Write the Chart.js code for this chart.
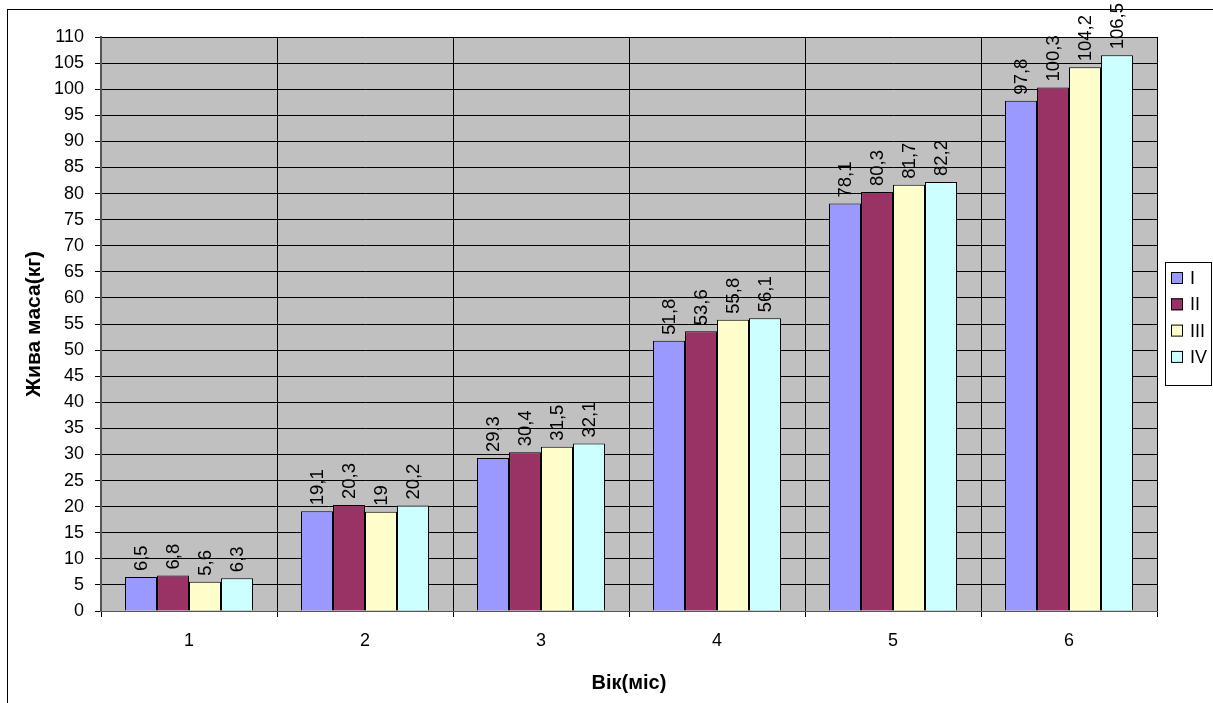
<!DOCTYPE html>
<html>
<head>
<meta charset="utf-8">
<script src="https://cdn.jsdelivr.net/npm/chart.js@4"></script>
<style>
  html, body { margin: 0; padding: 0; background: #fff; }
  #wrap { width: 1213px; height: 703px; position: relative; }
</style>
</head>
<body>
<div id="wrap"><canvas id="c" width="1213" height="703"></canvas></div>
<script>
// Age in months
const categories = ['1', '2', '3', '4', '5', '6'];
// Live weight (kg) per group
const groupI   = [6.5, 19.1, 29.3, 51.8, 78.1, 97.8];
const groupII  = [6.8, 20.3, 30.4, 53.6, 80.3, 100.3];
const groupIII = [5.6, 19, 31.5, 55.8, 81.7, 104.2];
const groupIV  = [6.3, 20.2, 32.1, 56.1, 82.2, 106.5];
const seriesNames = ['I', 'II', 'III', 'IV'];
const seriesColors = ['#9999FF', '#993366', '#FFFFCC', '#CCFFFF'];
const yTickStep = 5;
const yMax = 110;

const FONT = "'Liberation Sans', Arial, sans-serif";

// grey plot background + outer frame
const backdrop = {
  id: 'backdrop',
  beforeDraw(chart) {
    const {ctx, chartArea: a} = chart;
    ctx.save();
    ctx.fillStyle = '#fff';
    ctx.fillRect(0, 0, chart.width, chart.height);
    ctx.fillStyle = '#C0C0C0';
    ctx.fillRect(a.left, a.top, a.right - a.left, a.bottom - a.top);
    ctx.strokeStyle = '#000';
    ctx.lineWidth = 1;
    ctx.strokeRect(7.5, 9.5, chart.width + 20, chart.height + 20);
    ctx.restore();
  }
};

// vertical value labels above each bar
const valueLabels = {
  id: 'valueLabels',
  afterDatasetsDraw(chart) {
    const {ctx} = chart;
    ctx.save();
    ctx.font = '18.5px ' + FONT;
    ctx.fillStyle = '#000';
    ctx.textAlign = 'left';
    ctx.textBaseline = 'middle';
    chart.data.datasets.forEach((ds, i) => {
      chart.getDatasetMeta(i).data.forEach((bar, j) => {
        const txt = String(ds.data[j]).replace('.', ',');
        ctx.save();
        ctx.translate(bar.x + 1, bar.y - 6);
        ctx.rotate(-Math.PI / 2);
        ctx.fillText(txt, 0, 0);
        ctx.restore();
      });
    });
    ctx.restore();
  }
};

// boxed legend on the right
const boxLegend = {
  id: 'boxLegend',
  afterDraw(chart) {
    const {ctx} = chart;
    const x = 1165, y = 262, w = 46, h = 123, step = 26.3;
    ctx.save();
    ctx.fillStyle = '#fff';
    ctx.fillRect(x, y, w, h);
    ctx.strokeStyle = '#000';
    ctx.lineWidth = 1;
    ctx.strokeRect(x + 0.5, y + 0.5, w, h);
    ctx.font = '18px ' + FONT;
    ctx.textAlign = 'left';
    ctx.textBaseline = 'middle';
    chart.data.datasets.forEach((ds, i) => {
      const cy = y + 16 + i * step;
      ctx.fillStyle = ds.backgroundColor;
      ctx.fillRect(x + 6, cy - 6, 12, 12);
      ctx.strokeStyle = '#000';
      ctx.strokeRect(x + 6.5, cy - 5.5, 11, 11);
      ctx.fillStyle = '#000';
      ctx.fillText(ds.label, x + 25, cy + 1);
    });
    ctx.restore();
  }
};

const datasets = [groupI, groupII, groupIII, groupIV].map((vals, i) => ({
  label: seriesNames[i],
  data: vals,
  backgroundColor: seriesColors[i],
  borderColor: '#000',
  borderWidth: 1,
  categoryPercentage: 0.727,
  barPercentage: 1.0
}));

new Chart(document.getElementById('c'), {
  type: 'bar',
  data: { labels: categories, datasets },
  options: {
    responsive: false,
    animation: false,
    devicePixelRatio: 1,
    layout: { padding: { top: 37, right: 56, left: 0, bottom: 0 } },
    plugins: {
      legend: { display: false },
      tooltip: { enabled: false }
    },
    scales: {
      x: {
        offset: true,
        grid: { color: '#000', lineWidth: 1, offset: true, tickLength: 6, tickColor: '#000' },
        border: { color: '#555', width: 1 },
        ticks: { color: '#000', font: { family: FONT, size: 18 }, padding: 13 },
        title: { display: true, text: 'Вік(міс)', color: '#000',
                 font: { family: FONT, size: 20, weight: 'bold' }, padding: { top: 0, bottom: 8 } },
        afterFit(s) { s.height = 92; }
      },
      y: {
        min: 0, max: yMax,
        grid: { color: '#000', lineWidth: 1, tickLength: 6, tickColor: '#000' },
        border: { color: '#555', width: 2 },
        ticks: { stepSize: yTickStep, color: '#000', font: { family: FONT, size: 18 }, padding: 11 },
        title: { display: true, text: 'Жива маса(кг)', color: '#000',
                 font: { family: FONT, size: 21, weight: 'bold' }, padding: { top: 22, bottom: 0 } },
        afterFit(s) { s.width = 101; }
      }
    }
  },
  plugins: [backdrop, valueLabels, boxLegend]
});
</script>
</body>
</html>
